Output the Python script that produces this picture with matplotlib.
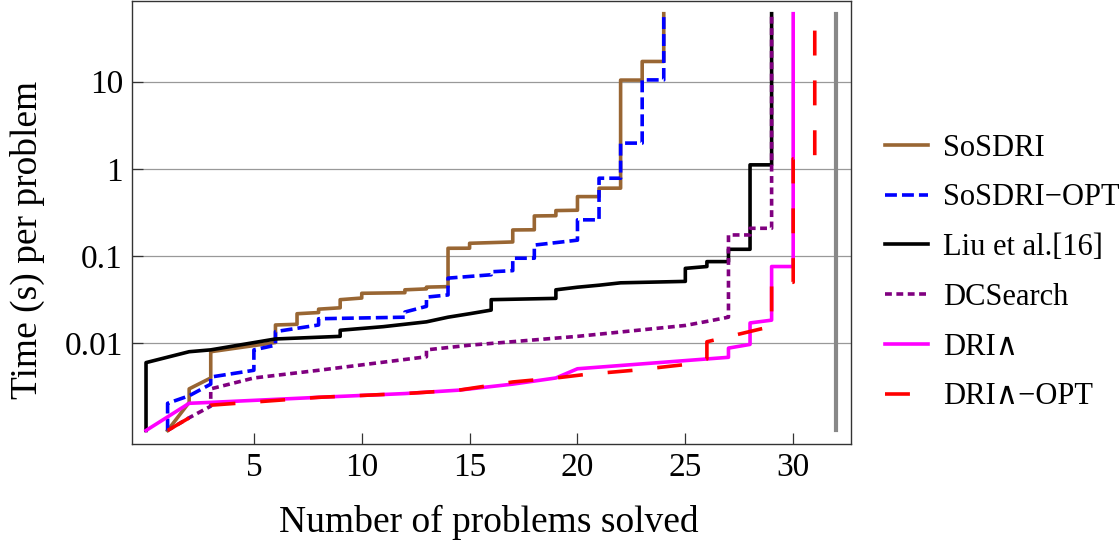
import numpy as np
import matplotlib
matplotlib.use("Agg")
import matplotlib.pyplot as plt

# tiempos por problema (s): vertices de cada curva
sos_x = [1, 2, 2, 3, 3, 6, 6, 7, 7, 8, 8, 9, 9, 10, 10, 12, 12, 13, 13, 14, 14, 15, 15,
         17, 17, 18, 18, 19, 19, 20, 20, 21, 21, 22, 22, 23, 23, 24, 24]
sos_y = [0.001, 0.0021, 0.003, 0.0040, 0.0080, 0.0102, 0.0162, 0.0165, 0.0218, 0.0225,
         0.0246, 0.0255, 0.0316, 0.033, 0.0374, 0.038, 0.041, 0.042, 0.044, 0.0446,
         0.1227, 0.123, 0.14, 0.145, 0.199, 0.2, 0.288, 0.29, 0.332, 0.335, 0.48, 0.48,
         0.599, 0.6, 10.4, 10.4, 17.0, 17.0, 60]

sosopt_x = [1, 1, 2, 3, 3, 5, 5, 6, 6, 8, 8, 12, 12, 13, 13, 14, 14, 16, 16, 17, 17,
            18, 18, 20, 20, 21, 21, 22, 22, 23, 23, 24, 24]
sosopt_y = [0.001, 0.00205, 0.0025, 0.0034, 0.0041, 0.0049, 0.0084, 0.0095, 0.0136,
            0.0162, 0.0191, 0.0199, 0.0228, 0.0265, 0.0338, 0.0358, 0.0558, 0.061,
            0.066, 0.068, 0.0944, 0.0944, 0.1335, 0.152, 0.26, 0.26, 0.78, 0.78, 1.97,
            1.97, 10.45, 10.45, 60]

liu_x = [0, 0, 2, 3, 6, 9, 9, 11, 13, 14, 15, 16, 16, 19, 19, 20, 21, 22, 25, 25, 26,
         26, 27, 27, 28, 28, 29, 29]
liu_y = [0.001, 0.0060, 0.0080, 0.0084, 0.0112, 0.012, 0.0141, 0.0155, 0.0176, 0.0199,
         0.0218, 0.024, 0.0316, 0.0327, 0.041, 0.0439, 0.0463, 0.0493, 0.0512, 0.0722,
         0.0758, 0.0863, 0.0863, 0.1195, 0.1195, 1.11, 1.11, 60]

dcs_x = [1, 2, 3, 3, 5, 8, 13, 13, 15, 20, 25, 26, 27, 27, 28, 28, 29, 29]
dcs_y = [0.001, 0.0014, 0.0019, 0.003, 0.0040, 0.0049, 0.0070, 0.0084, 0.0095, 0.012,
         0.016, 0.0178, 0.0199, 0.1744, 0.1744, 0.208, 0.208, 60]

dri_x = [0, 2, 3, 8, 12, 14.5, 17, 19, 20, 27, 27, 28, 28, 29, 29, 30, 30]
dri_y = [0.001, 0.00205, 0.0021, 0.0024, 0.00265, 0.0029, 0.0034, 0.0040, 0.0051,
         0.0069, 0.0088, 0.0097, 0.0171, 0.0184, 0.0758, 0.0758, 60]

driopt_x = [1, 3, 8, 12, 14.5, 17, 19, 20.4, 22.6, 25, 26, 26, 28.5, 29, 29, 30, 30, 31, 31]
driopt_y = [0.001, 0.00195, 0.0024, 0.00265, 0.0029, 0.0036, 0.0040, 0.0044, 0.0049,
            0.0057, 0.0066, 0.0104, 0.0146, 0.0155, 0.05, 0.05, 1.3, 1.3, 60]

total_x = [32, 32]      # numero total de problemas
total_y = [0.001, 60]

etiquetas = ["SoSDRI", "SoSDRI\u2212OPT", "Liu et al.[16]", "DCSearch",
             "DRI\u2227", "DRI\u2227\u2212OPT"]

plt.rcParams['font.family'] = ['Liberation Serif', 'DejaVu Serif']

fig = plt.figure(figsize=(11.19, 5.46), dpi=100)
ax = fig.add_axes([132/1119, 102/546, (851-132)/1119, (545.5-102)/546])

lw = 2.6
ax.plot(sos_x, sos_y, color=(0.6, 0.4, 0.2), lw=lw, label=etiquetas[0])
ax.plot(sosopt_x, sosopt_y, color='#0000ff', lw=lw, dashes=(3.3, 1.4), label=etiquetas[1])
ax.plot(liu_x, liu_y, color='black', lw=lw, label=etiquetas[2])
ax.plot(dcs_x, dcs_y, color=(0.5, 0, 0.5), lw=lw, dashes=(1.9, 1.25), label=etiquetas[3])
ax.plot(dri_x, dri_y, color='#ff00ff', lw=lw, label=etiquetas[4])
ax.plot(driopt_x, driopt_y, color='#ff0000', lw=lw, dashes=(6.9, 6.9), label=etiquetas[5])
ax.plot(total_x, total_y, color='#888888', lw=3.0)

ax.set_yscale('log')
ax.set_xlim(-0.65, 32.68)
ax.set_ylim(7.0e-4, 85)
ax.set_xticks([5, 10, 15, 20, 25, 30])
ax.set_yticks([0.01, 0.1, 1, 10])
ax.set_yticklabels(["0.01", "0.1", "1", "10"])
ax.yaxis.set_minor_locator(matplotlib.ticker.NullLocator())
ax.tick_params(direction='in', length=8, width=0.9, labelsize=24, color='#333333')
ax.tick_params(axis='x', pad=6)
ax.tick_params(axis='y', pad=6.5)
ax.grid(axis='y', color='#999999', lw=0.9)
for s in ax.spines.values():
    s.set_color('#333333')
    s.set_linewidth(1.0)

# titulos de los ejes
fig.text(489/1119, 1 - 531.7/546, "Number of problems solved", fontsize=27,
         ha='center', va='baseline')
fig.text(27/1119, 1 - 240/546, "Time (s) per problem", fontsize=27,
         rotation=90, ha='center', va='center')

ax.legend(loc='center left', bbox_to_anchor=(885/1119, 1 - 272.5/546),
          bbox_transform=fig.transFigure, frameon=False, fontsize=22,
          handlelength=1.4, handletextpad=0.49, labelspacing=0.68,
          borderpad=0, borderaxespad=0)

fig.savefig("out.png", dpi=100)
